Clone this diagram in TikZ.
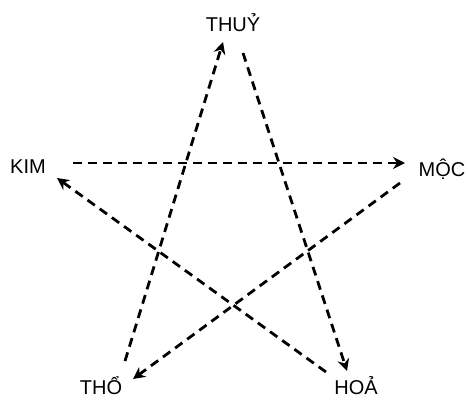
\documentclass[tikz,border=0pt]{standalone}
\usepackage{fontspec}
\setmainfont{Liberation Sans}
\usetikzlibrary{arrows.meta}

\begin{document}
\begin{tikzpicture}[
    x=1pt, y=-1pt,
    element/.style={font=\fontsize{20}{22}\selectfont, inner sep=0pt, anchor=base},
    flow/.style={-{Stealth[length=12pt, width=12pt, inset=4pt]}, line width=2.8pt,
                 dash pattern=on 9pt off 6pt}
]
    \useasboundingbox (0,0) rectangle (468,399);

    % elements
    \node[element] (thuy) at (233,31) {THUỶ};
    \node[element] (kim)  at (28,173) {KIM};
    \node[element] (moc)  at (442,176) {MỘC};
    \node[element] (tho)  at (101,394) {THỔ};
    \node[element] (hoa)  at (356,394) {HOẢ};

    % line ends
    \coordinate (kimS) at (73,163);
    \coordinate (mocE) at (405,163);
    \coordinate (mocS) at (400,183);
    \coordinate (thoE) at (133,379);
    \coordinate (thoS) at (125,361);
    \coordinate (thuyE) at (223,42);
    \coordinate (thuyS) at (243,53);
    \coordinate (hoaE) at (347,371);
    \coordinate (hoaS) at (326,372);
    \coordinate (kimE) at (57,178);

    \draw[flow] (kimS) -- (mocE);
    \draw[flow] (mocS) -- (thoE);
    \draw[flow] (thoS) -- (thuyE);
    \draw[flow] (thuyS) -- (hoaE);
    \draw[flow] (hoaS) -- (kimE);
\end{tikzpicture}
\end{document}
